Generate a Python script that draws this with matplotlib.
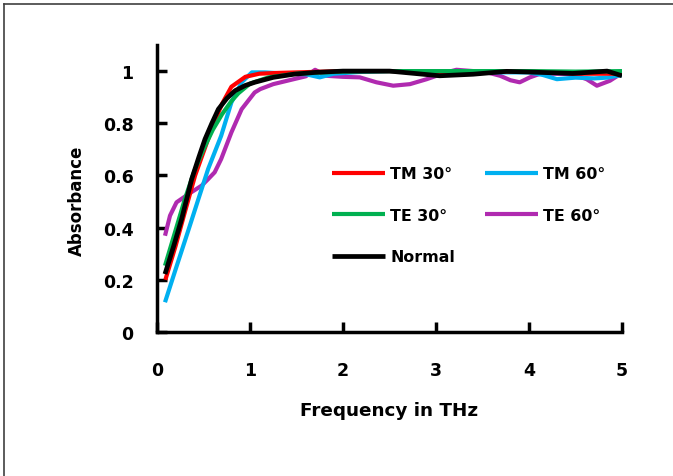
import numpy as np
import matplotlib.pyplot as plt
from matplotlib.lines import Line2D

# Absorbance vs frequency (THz)
f_tm30 = [0.09, 0.2, 0.3, 0.41, 0.5, 0.6, 0.7, 0.8, 0.95, 1.1, 1.3, 1.5, 2.0, 2.5, 3.0, 3.5, 4.0, 4.5, 5.0]
a_tm30 = [0.20, 0.33, 0.46, 0.60, 0.69, 0.79, 0.875, 0.94, 0.978, 0.99, 0.993, 0.995, 1.0, 1.0, 0.995, 0.995, 1.0, 0.99, 0.99]

f_tm60 = [0.086, 0.2, 0.34, 0.45, 0.55, 0.69, 0.8, 0.91, 1.02, 1.16, 1.4, 1.6, 1.75, 1.9, 2.2, 2.5, 3.0, 3.5, 4.0, 4.15, 4.3, 4.5, 4.7, 4.84, 5.0]
a_tm60 = [0.114, 0.24, 0.393, 0.515, 0.625, 0.752, 0.88, 0.957, 0.995, 0.995, 0.99, 0.988, 0.976, 0.99, 0.997, 1.0, 1.0, 0.995, 0.995, 0.985, 0.969, 0.975, 0.972, 0.975, 0.985]

f_te30 = [0.086, 0.2, 0.3, 0.4, 0.5, 0.6, 0.7, 0.8, 0.875, 1.0, 1.2, 1.5, 2.0, 2.5, 3.0, 3.5, 4.0, 4.5, 5.0]
a_te30 = [0.254, 0.39, 0.51, 0.615, 0.70, 0.775, 0.835, 0.885, 0.915, 0.952, 0.976, 0.99, 0.998, 1.0, 1.0, 1.0, 1.0, 0.998, 1.0]

f_te60 = [0.086, 0.14, 0.21, 0.34, 0.48, 0.55, 0.62, 0.69, 0.8, 0.91, 1.05, 1.11, 1.25, 1.47, 1.6, 1.70, 1.82, 2.0, 2.18, 2.36, 2.54, 2.72, 2.9, 3.11, 3.22, 3.4, 3.55, 3.69, 3.8, 3.9, 4.01, 4.12, 4.3, 4.47, 4.62, 4.73, 4.87, 4.98]
a_te60 = [0.369, 0.446, 0.497, 0.529, 0.561, 0.586, 0.612, 0.663, 0.765, 0.854, 0.918, 0.931, 0.95, 0.969, 0.98, 1.005, 0.982, 0.978, 0.976, 0.957, 0.944, 0.95, 0.969, 0.995, 1.005, 1.0, 0.995, 0.982, 0.965, 0.957, 0.976, 0.99, 0.99, 0.988, 0.969, 0.944, 0.963, 0.988]

f_norm = [0.086, 0.18, 0.265, 0.373, 0.45, 0.516, 0.59, 0.66, 0.75, 0.84, 0.95, 1.05, 1.25, 1.47, 1.7, 2.0, 2.5, 3.04, 3.4, 3.76, 4.12, 4.47, 4.84, 5.0]
a_norm = [0.222, 0.33, 0.433, 0.586, 0.67, 0.739, 0.80, 0.854, 0.895, 0.925, 0.945, 0.957, 0.976, 0.988, 0.995, 1.0, 1.0, 0.982, 0.988, 0.999, 0.995, 0.991, 1.0, 0.982]

xticks = [0, 1, 2, 3, 4, 5]
yticks = [0, 0.2, 0.4, 0.6, 0.8, 1]
ytick_labels = ['0', '0.2', '0.4', '0.6', '0.8', '1']

plt.rcParams['font.family'] = ['DejaVu Sans']
plt.rcParams['font.weight'] = 'bold'

fig = plt.figure(figsize=(6.73, 4.77), dpi=100)
ax = fig.add_axes([157/673, 1-333/477, 465/673, 287/477])

lw = 3.0
kw = dict(solid_capstyle='butt', solid_joinstyle='round')
l_te60, = ax.plot(f_te60, a_te60, color='#B02AB0', lw=lw, label='TE 60°', **kw)
l_tm60, = ax.plot(f_tm60, a_tm60, color='#00B0F0', lw=lw, label='TM 60°', **kw)
l_tm30, = ax.plot(f_tm30, a_tm30, color='#FF0000', lw=lw, label='TM 30°', **kw)
l_te30, = ax.plot(f_te30, a_te30, color='#00B050', lw=lw, label='TE 30°', **kw)
l_norm, = ax.plot(f_norm, a_norm, color='black', lw=3.4, label='Normal', **kw)

ax.set_xlim(0, 5)
ax.set_ylim(0, 1.1)
ax.set_xticks(xticks)
ax.set_yticks(yticks)
ax.set_yticklabels(ytick_labels)

for s in ['top', 'right']:
    ax.spines[s].set_visible(False)
for s in ['left', 'bottom']:
    ax.spines[s].set_linewidth(2.5)

ax.tick_params(direction='in', length=7, width=2.5, labelsize=12.5)
ax.tick_params(axis='x', pad=21)
ax.tick_params(axis='y', pad=17)

ax.set_xlabel('Frequency in THz', fontsize=13.2, fontweight='bold', labelpad=16)
ax.set_ylabel('Absorbance', fontsize=12, fontweight='bold')
ax.yaxis.set_label_coords(-0.152, 0.46)

ax.legend(handles=[l_tm30, l_te30, l_norm, l_tm60, l_te60], ncol=2, frameon=False,
          loc='upper left', bbox_to_anchor=(0.36, 0.605), fontsize=11.4,
          handlelength=3.35, handletextpad=0.3, labelspacing=1.67, columnspacing=1.9,
          borderpad=0)

# outer frame of the picture
fig.add_artist(Line2D([4/673, 1], [1-5/477, 1-5/477], color='#404040', lw=1.2))
fig.add_artist(Line2D([4/673, 4/673], [0, 1-5/477], color='#404040', lw=1.2))

fig.savefig('out.png', dpi=100)
